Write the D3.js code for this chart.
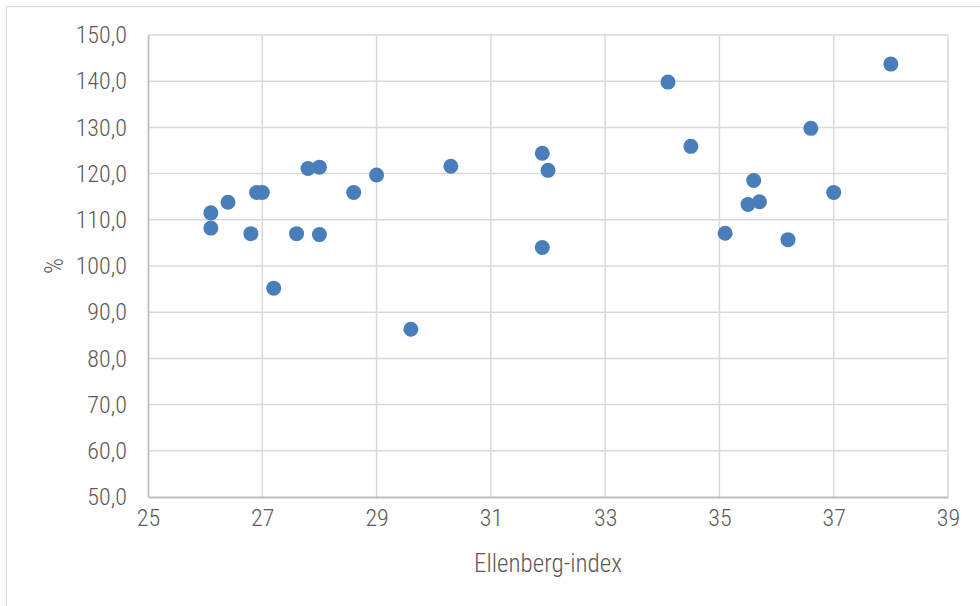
<!DOCTYPE html>
<html>
<head>
<meta charset="utf-8">
<script src="https://cdn.jsdelivr.net/npm/d3@7"></script>
<style>
  body { margin: 0; background: #fff; }
  text { font-family: "Roboto Condensed", "Liberation Sans Narrow", sans-serif; font-weight: 300; fill: #595959; }
</style>
</head>
<body>
<div id="chart"></div>
<script>
// Ellenberg-index vs %
var ellenberg = [26.1, 26.1, 26.4, 26.9, 27.0, 26.8, 27.2, 27.6, 27.8, 28.0, 28.0, 28.6, 29.0, 29.6, 30.3,
                 31.9, 32.0, 31.9, 34.1, 34.5, 35.1, 35.6, 35.5, 35.7, 36.2, 36.6, 37.0, 38.0];
var percent   = [111.5, 108.2, 113.8, 115.9, 115.9, 107.0, 95.2, 107.0, 121.1, 121.4, 106.8, 115.9, 119.7, 86.3, 121.6,
                 124.4, 120.7, 104.0, 139.8, 125.9, 107.1, 118.5, 113.3, 113.9, 105.7, 129.8, 115.9, 143.7];
var xTicks = [25, 27, 29, 31, 33, 35, 37, 39];
var yTicks = [50, 60, 70, 80, 90, 100, 110, 120, 130, 140, 150];
var xTitle = "Ellenberg-index", yTitle = "%";

var width = 980, height = 606,
    margin = {top: 35, left: 148, bottom: 109, right: 32},
    fontFam = '"Roboto Condensed", "Liberation Sans Narrow", sans-serif';

var svg = d3.select('#chart').append('svg')
  .attr('width', width)
  .attr('height', height);

// chart frame
svg.append('rect')
  .attr('x', 6.5).attr('y', 6.5)
  .attr('width', 990).attr('height', 620)
  .attr('fill', 'none')
  .attr('stroke', '#d9d9d9')
  .attr('stroke-width', 1.2);

var x = d3.scaleLinear().domain([25, 39]).range([margin.left, width - margin.right]);
var y = d3.scaleLinear().domain([50, 150]).range([height - margin.bottom, margin.top]);

var fmt = function(d) { return d3.format('.1f')(d).replace('.', ','); };

// gridlines
svg.append('g').selectAll('line')
  .data(yTicks.slice(1)).enter().append('line')
  .attr('x1', x(25)).attr('x2', x(39))
  .attr('y1', function(d) { return y(d); }).attr('y2', function(d) { return y(d); })
  .attr('stroke', '#d9d9d9').attr('stroke-width', 1.5);

svg.append('g').selectAll('line')
  .data(xTicks.slice(1)).enter().append('line')
  .attr('x1', function(d) { return x(d); }).attr('x2', function(d) { return x(d); })
  .attr('y1', y(50)).attr('y2', y(150))
  .attr('stroke', '#d9d9d9').attr('stroke-width', 1.5);

// axes
var xAxis = svg.append('g')
  .attr('transform', 'translate(0,' + y(50) + ')')
  .call(d3.axisBottom(x).tickValues(xTicks).tickSize(0).tickPadding(12).tickFormat(d3.format('d')));
var yAxis = svg.append('g')
  .attr('transform', 'translate(' + x(25) + ',0)')
  .call(d3.axisLeft(y).tickValues(yTicks).tickSize(0).tickPadding(21).tickFormat(fmt));

[xAxis, yAxis].forEach(function(a) {
  a.attr('font-family', null).attr('font-size', null);
  a.select('.domain').attr('stroke', '#bfbfbf').attr('stroke-width', 1.8);
  a.selectAll('text')
    .style('font-family', fontFam)
    .style('font-weight', 300)
    .style('font-size', '24px')
    .attr('fill', '#595959');
});

// points
svg.append('g').selectAll('circle')
  .data(ellenberg.map(function(d, i) { return [d, percent[i]]; }))
  .enter().append('circle')
  .attr('cx', function(d) { return x(d[0]); })
  .attr('cy', function(d) { return y(d[1]); })
  .attr('r', 7.5)
  .attr('fill', '#4a7ebb');

// titles
svg.append('text')
  .attr('x', x(32)).attr('y', 572)
  .attr('text-anchor', 'middle')
  .style('font-size', '25px')
  .text(xTitle);

svg.append('text')
  .attr('transform', 'translate(63,' + y(100) + ') rotate(-90)')
  .attr('text-anchor', 'middle')
  .style('font-size', '25px')
  .text(yTitle);
</script>
</body>
</html>
